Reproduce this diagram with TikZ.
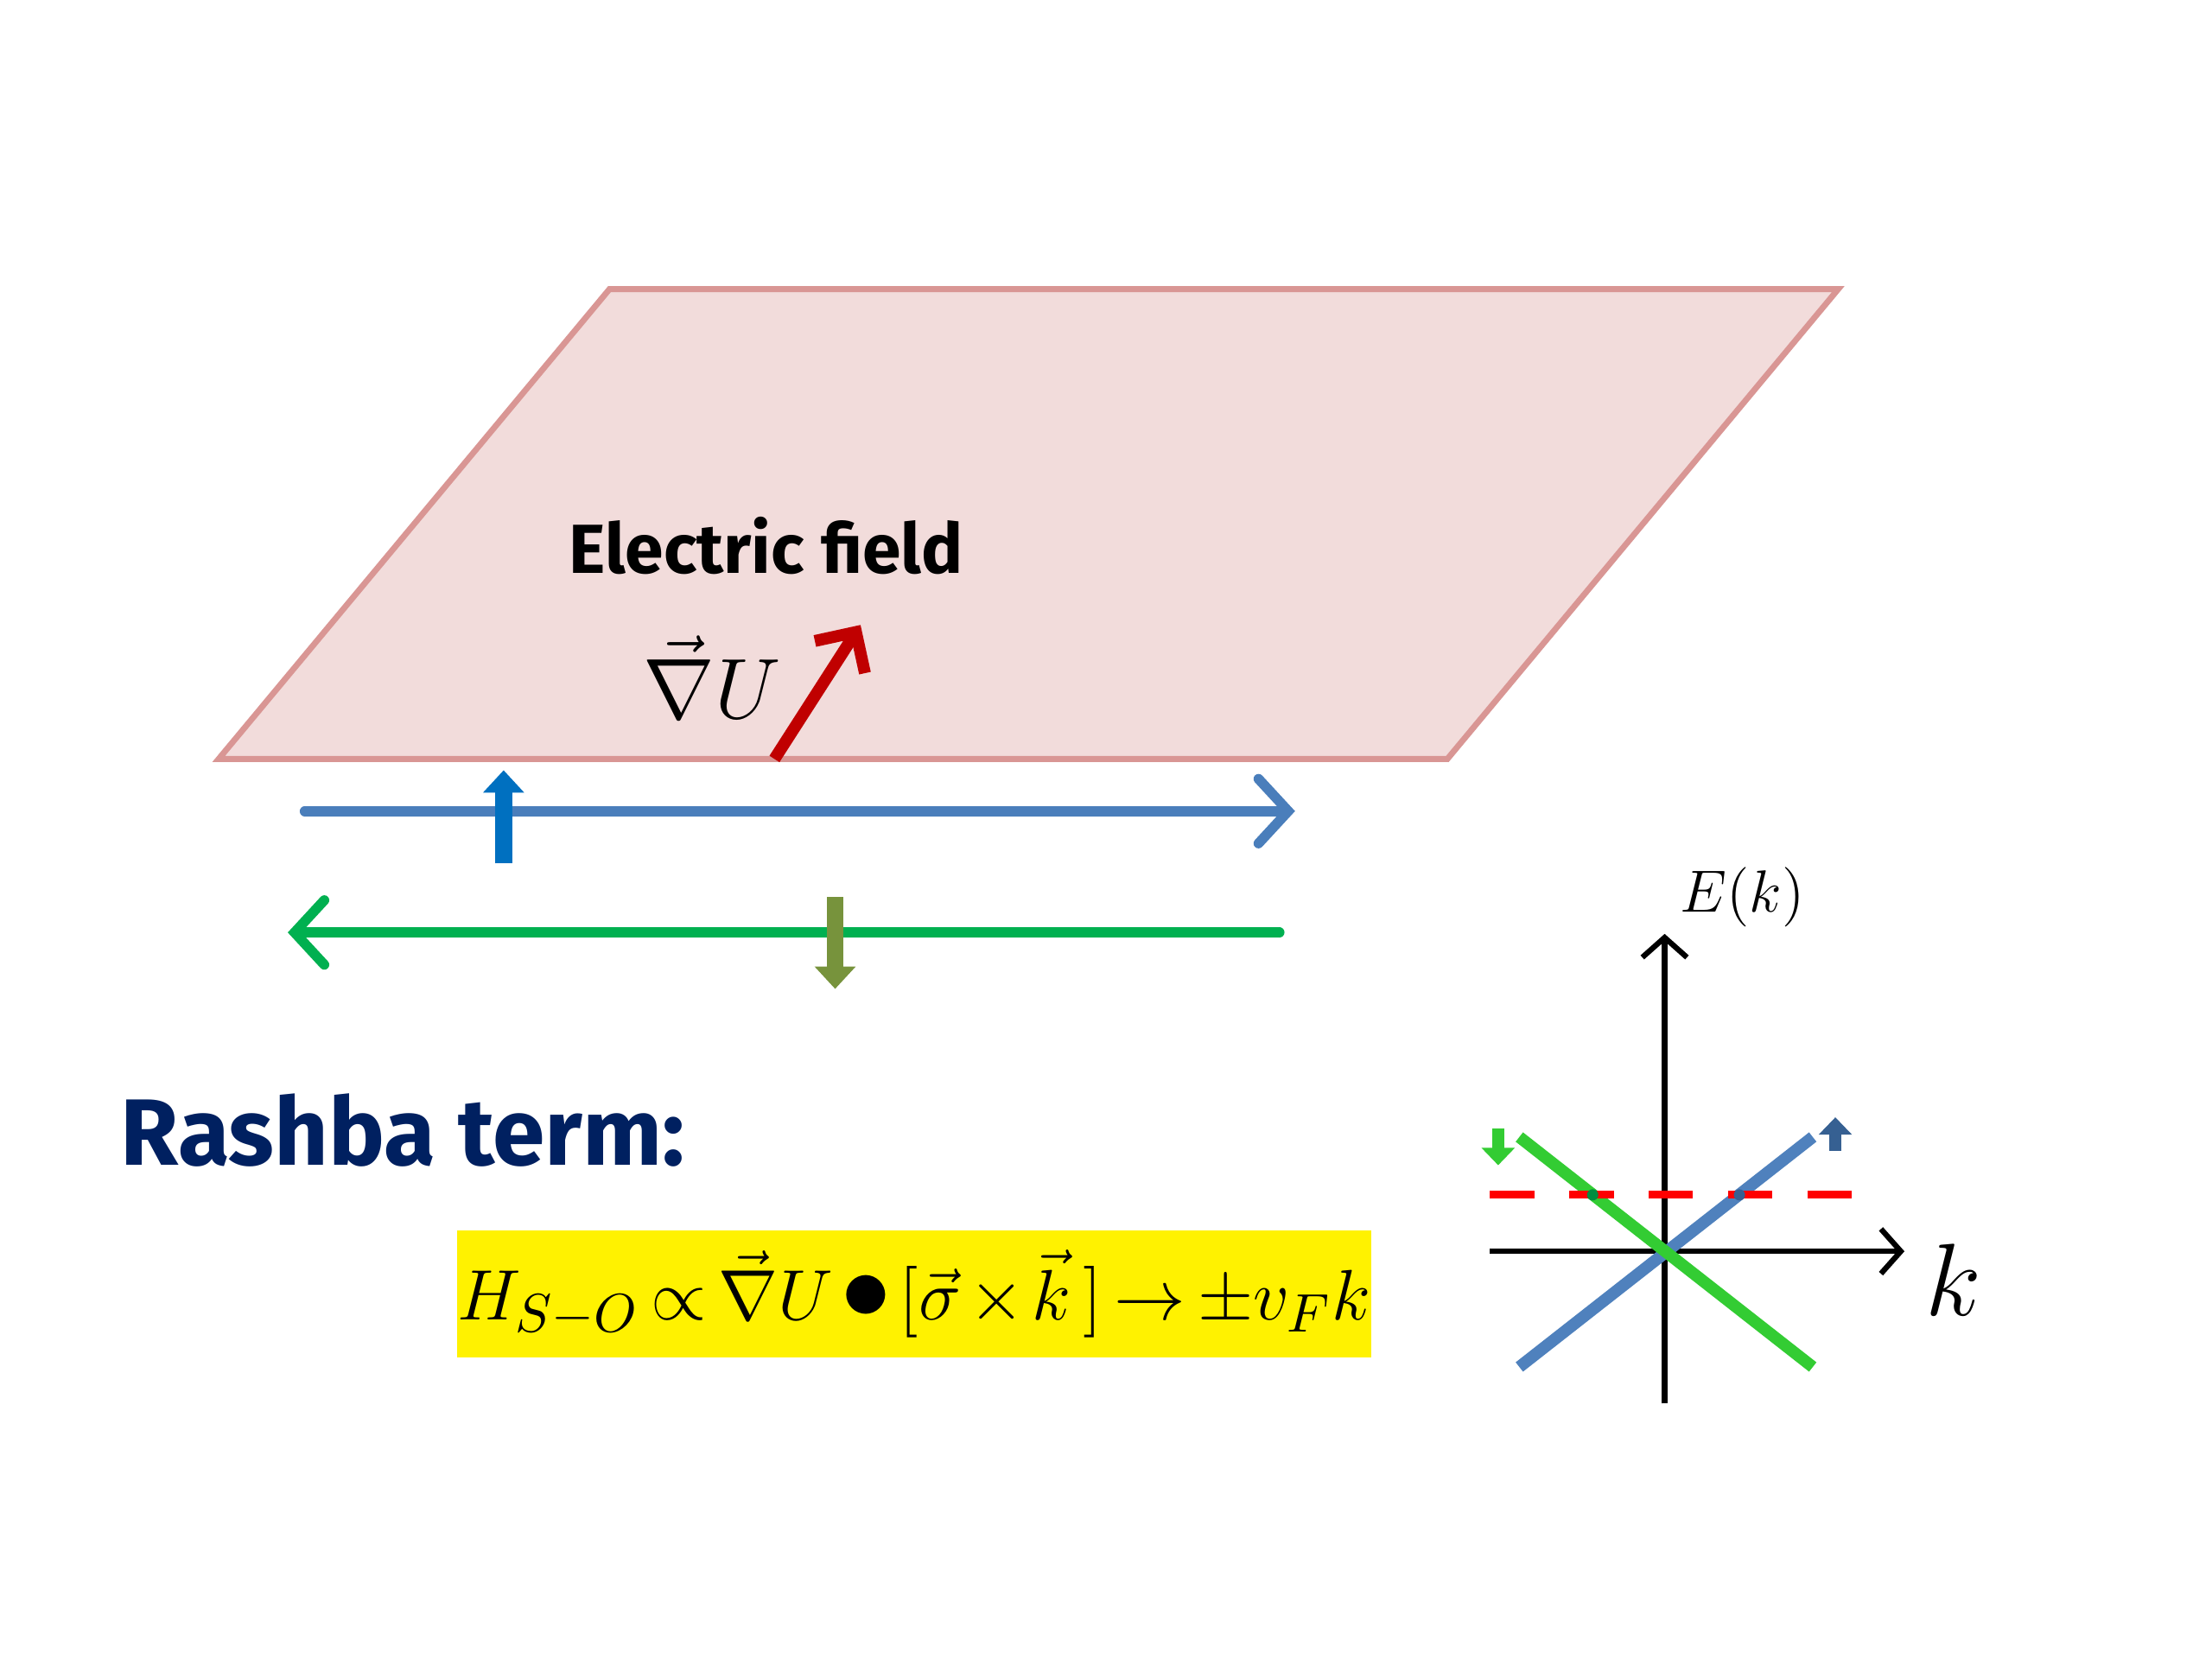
\documentclass[tikz,border=0pt]{standalone}
\usepackage{fontspec}
\newfontfamily\comicfont{Fira Sans}
\usetikzlibrary{arrows.meta,positioning}
\definecolor{planefill}{HTML}{F2DCDB}
\definecolor{planeedge}{HTML}{D99694}
\definecolor{fieldred}{HTML}{C00000}
\definecolor{trackblue}{HTML}{4A7EBB}
\definecolor{spinblue}{HTML}{0070C0}
\definecolor{trackgreen}{HTML}{00B050}
\definecolor{spingreen}{HTML}{77933C}
\definecolor{titlenavy}{HTML}{002060}
\definecolor{bandgreen}{HTML}{33CC33}
\definecolor{bandblue}{HTML}{4F81BD}
\definecolor{dotblue}{HTML}{366092}
\tikzset{
  track/.style={line width=2pt, line cap=round, -{Straight Barb[length=6pt,width=13pt,line cap=round]}},
  spin/.style={line width=3.4pt, -{Triangle[length=4.5pt,width=8pt]}},
  minispin/.style={line width=2.4pt, -{Triangle[length=3.5pt,width=6.5pt]}},
  band/.style={line width=2.4pt},
  axis/.style={line width=1.1pt, -{Straight Barb[length=4pt,width=9pt]}},
}
\begin{document}
\begin{tikzpicture}[x=0.01cm,y=-0.01cm]
    \useasboundingbox (0,0) rectangle (1568,1176);
    % charged plane
    \draw[fill=planefill, draw=planeedge, line width=1.2pt] (432,205) -- (1303,205) -- (1026,538) -- (155,538) -- cycle;
    \node[font=\comicfont\bfseries\fontsize{14}{17}\selectfont] (efield) at (543,387) {Electric field};
    \node[font=\fontsize{16}{19}\selectfont] (gradU) at (505,480) {$\vec{\nabla}U$};
    \coordinate (fbase) at (549,538);
    \coordinate (ftip) at (610,443);
    \draw[fieldred, line width=2.4pt, -{Straight Barb[length=6pt,width=12pt]}] (fbase) -- (ftip);
    % spin up / spin down channels
    \coordinate (upL) at (216,575);
    \coordinate (upR) at (918,575);
    \coordinate (dnR) at (907,661);
    \coordinate (dnL) at (204,661);
    \draw[track, trackblue] (upL) -- (upR);
    \draw[track, trackgreen] (dnR) -- (dnL);
    \coordinate (supB) at (357,612);
    \coordinate (supT) at (357,546);
    \coordinate (sdnT) at (592,636);
    \coordinate (sdnB) at (592,701);
    \draw[spin, spinblue] (supB) -- (supT);
    \draw[spin, spingreen] (sdnT) -- (sdnB);
    % Rashba term
    \node[anchor=base west, inner sep=0pt, text=titlenavy, font=\comicfont\bfseries\fontsize{19}{23}\selectfont] (rashba) at (85,826) {Rashba term:};
    \node[fill=yellow, minimum width=6.37cm, minimum height=0.9cm, inner sep=0pt, font=\fontsize{15}{18}\selectfont] (hso) at (648,917)
        {\medmuskip=2mu\thickmuskip=3mu$H_{S-O}\propto\vec{\nabla}U\mathbin{\scalebox{1.4}{$\bullet$}}[\vec{\sigma}\times\vec{k}\,]\rightarrow\pm v_F k$};
    % dispersion E(k)
    \coordinate (ebot) at (1180,995);
    \coordinate (etop) at (1180,662);
    \coordinate (kL) at (1056,887);
    \coordinate (kR) at (1350,887);
    \draw[axis] (ebot) -- (etop);
    \draw[axis] (kL) -- (kR);
    \node[font=\fontsize{13}{16}\selectfont] (elabel) at (1235,636) {$E(k)$};
    \node[font=\fontsize{22}{26}\selectfont] (klabel) at (1385,907) {$k$};
    \coordinate (gA) at (1077,806);
    \coordinate (gB) at (1285,969);
    \coordinate (bA) at (1077,969);
    \coordinate (bB) at (1285,806);
    \draw[band, bandblue] (bA) -- (bB);
    \draw[band, bandgreen] (gA) -- (gB);
    \coordinate (fL) at (1056,847);
    \coordinate (fR) at (1318,847);
    \draw[red, line width=1.6pt, dash pattern=on 9pt off 7pt] (fL) -- (fR);
    \fill[trackgreen!80!black] (1129,847) circle (4);
    \fill[dotblue] (1233,847) circle (4);
    \coordinate (mdT) at (1062,800);
    \coordinate (mdB) at (1062,826);
    \coordinate (muB) at (1301,816);
    \coordinate (muT) at (1301,792);
    \draw[minispin, bandgreen] (mdT) -- (mdB);
    \draw[minispin, dotblue] (muB) -- (muT);
\end{tikzpicture}
\end{document}
